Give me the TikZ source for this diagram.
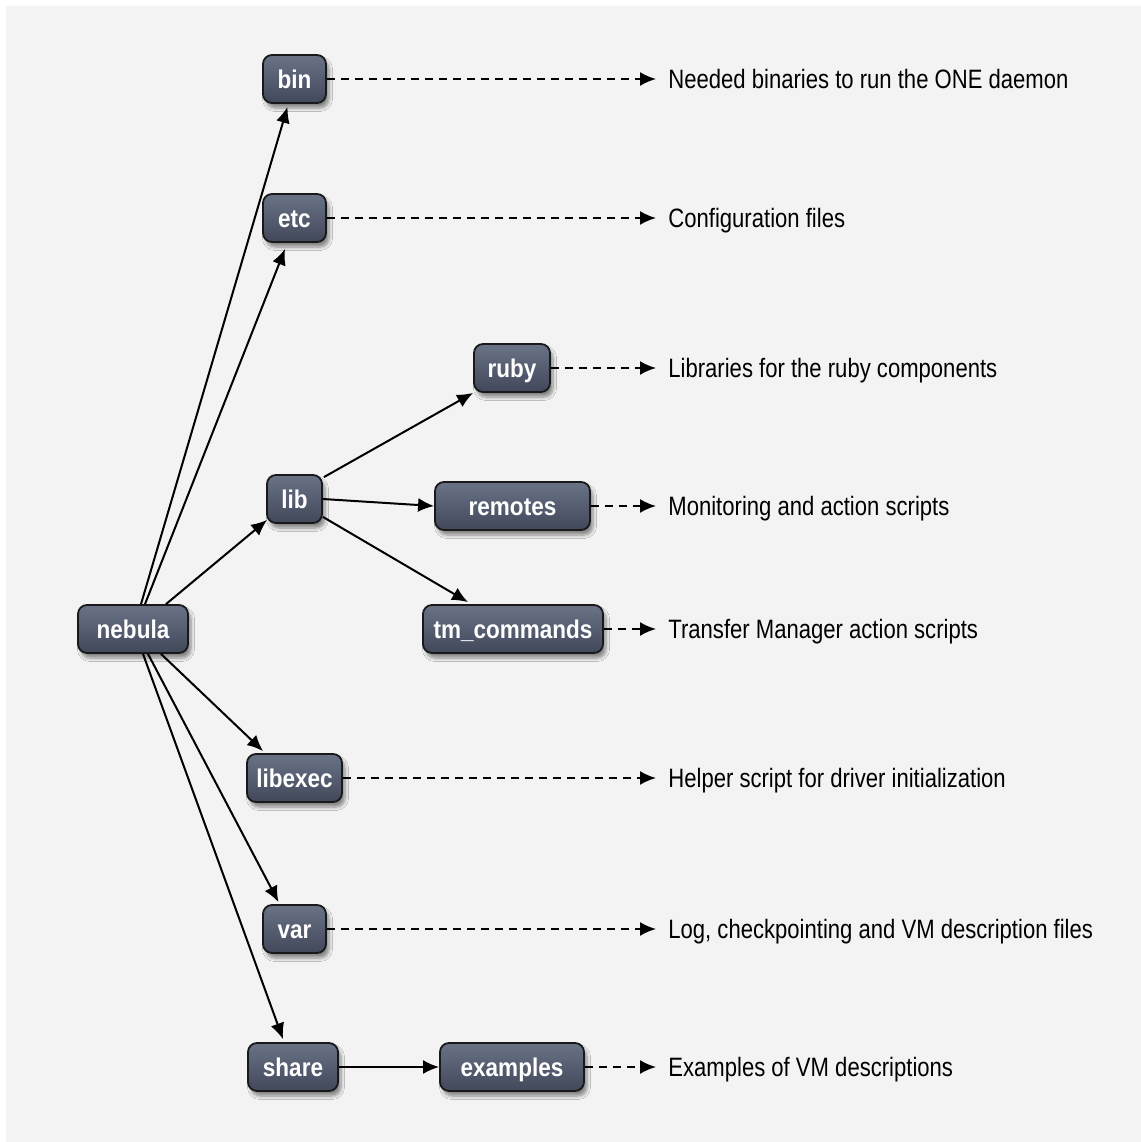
\documentclass[tikz,border=0pt]{standalone}
\usepackage{fontspec}
\newfontfamily\lblfont[FakeStretch=0.83]{Liberation Sans}
\newfontfamily\boxfont[FakeStretch=0.88]{Liberation Sans}
\usetikzlibrary{arrows.meta,calc,shadows.blur}
\definecolor{bgc}{HTML}{F3F3F3}
\definecolor{boxtop}{HTML}{6A7286}
\definecolor{boxbot}{HTML}{41485A}
\tikzset{
  dirbox/.style={rounded corners=4.5pt, draw=black!90, line width=0.9pt,
    top color=boxtop, bottom color=boxbot, text=white,
    font=\boxfont\bfseries\fontsize{12.8}{14}\selectfont,
    minimum height=24pt, inner sep=0pt, text height=9pt, text depth=0pt,
    blur shadow={shadow xshift=1.5pt, shadow yshift=-2.5pt, shadow opacity=45, shadow blur steps=6}},
  desc/.style={anchor=west, inner sep=0pt, text height=9.5pt, text depth=0pt,
    font=\lblfont\fontsize{13.3}{15}\selectfont, text=black},
  link/.style={line width=1pt, -{Latex[length=8pt,width=7pt]}},
  dlink/.style={link, dash pattern=on 4pt off 3pt, shorten >=6pt}
}
\begin{document}
\begin{tikzpicture}[x={(0.5pt,0)}, y={(0,-0.5pt)}]
\useasboundingbox (0,0) rectangle (1141,1142);
\fill[white] (0,0) rectangle (1141,1142);
\fill[bgc] (6,6) rectangle (1160,1160);

% directory nodes
\node[dirbox, minimum width=31.5pt] (bin) at (294.5,79) {bin};
\node[dirbox, minimum width=31.5pt] (etc) at (294.5,218) {etc};
\node[dirbox, minimum width=38pt] (ruby) at (512,368) {ruby};
\node[dirbox, minimum width=27.5pt] (lib) at (294.5,499) {lib};
\node[dirbox, minimum width=77.5pt] (remotes) at (512.5,506) {remotes};
\node[dirbox, minimum width=90pt] (tm) at (513,629) {tm\_commands};
\node[dirbox, minimum width=55pt] (nebula) at (133,629) {nebula};
\node[dirbox, minimum width=47.5pt] (libexec) at (294.5,778) {libexec};
\node[dirbox, minimum width=31.5pt] (var) at (294.5,929) {var};
\node[dirbox, minimum width=45pt] (share) at (293,1067) {share};
\node[dirbox, minimum width=72pt] (examples) at (512,1067) {examples};

% descriptions
\node[desc] (dbin) at (668,79) {Needed binaries to run the ONE daemon};
\node[desc] (detc) at (668,218) {Configuration files};
\node[desc] (druby) at (668,368) {Libraries for the ruby components};
\node[desc] (dremotes) at (668,506) {Monitoring and action scripts};
\node[desc] (dtm) at (668,629) {Transfer Manager action scripts};
\node[desc] (dlibexec) at (668,778) {Helper script for driver initialization};
\node[desc] (dvar) at (668,929) {Log, checkpointing and VM description files};
\node[desc] (dexamples) at (668,1067) {Examples of VM descriptions};

% solid connectors
\draw[link] ($(nebula.north)+(8,0)$) -- ($(bin.south)+(-7,3)$);
\draw[link] ($(nebula.north)+(12,0)$) -- ($(etc.south)+(-9.5,6)$);
\draw[link] ($(nebula.north)+(33,0)$) -- ($(lib.south west)+(1,-4)$);
\draw[link] ($(nebula.south)+(28,0)$) -- ($(libexec.north west)+(17,-2)$);
\draw[link] ($(nebula.south)+(15,0)$) -- ($(var.north)+(-16,-2)$);
\draw[link] ($(nebula.south)+(10,0)$) -- ($(share.north)+(-10,-3)$);
\draw[link] ($(lib.north east)+(1,3)$) -- ($(ruby.south west)+(0,0)$);
\draw[link] (lib.east) -- (remotes.west);
\draw[link] ($(lib.south east)+(0,-7)$) -- ($(tm.north)+(-45,-2)$);
\draw[link] (share.east) -- (examples.west);

% dashed connectors
\draw[dlink] (bin.east) -- (dbin.west);
\draw[dlink] (etc.east) -- (detc.west);
\draw[dlink] (ruby.east) -- (druby.west);
\draw[dlink] (remotes.east) -- (dremotes.west);
\draw[dlink] (tm.east) -- (dtm.west);
\draw[dlink] (libexec.east) -- (dlibexec.west);
\draw[dlink] (var.east) -- (dvar.west);
\draw[dlink] (examples.east) -- (dexamples.west);
\end{tikzpicture}
\end{document}
